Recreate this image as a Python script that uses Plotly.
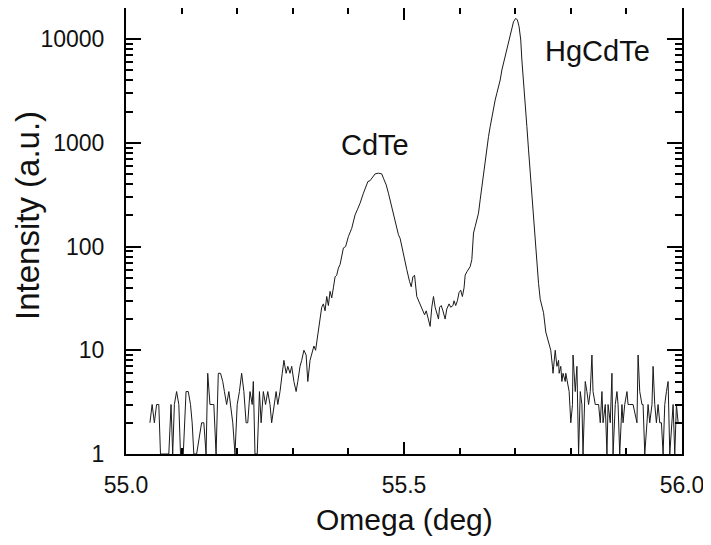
import math
import plotly.graph_objects as go

# Omega (deg) and intensity (a.u.)
omega = [
    55.043, 55.047, 55.051, 55.055, 55.059, 55.062, 55.066, 55.070, 55.077, 55.081,
    55.084, 55.087, 55.091, 55.095, 55.098, 55.103, 55.108, 55.112, 55.116, 55.119,
    55.122, 55.127, 55.136, 55.140, 55.144, 55.147, 55.151, 55.155, 55.158, 55.162,
    55.166, 55.170, 55.174, 55.177, 55.181, 55.185, 55.188, 55.192, 55.196, 55.200,
    55.204, 55.208, 55.212, 55.216, 55.219, 55.223, 55.227, 55.229, 55.232, 55.236,
    55.240, 55.243, 55.247, 55.251, 55.255, 55.259, 55.262, 55.266, 55.270, 55.273,
    55.277, 55.281, 55.284, 55.288, 55.291, 55.295, 55.298, 55.302, 55.306, 55.309,
    55.313, 55.316, 55.320, 55.324, 55.327, 55.331, 55.334, 55.338, 55.341, 55.346,
    55.349, 55.352, 55.355, 55.358, 55.361, 55.364, 55.367, 55.370, 55.373, 55.376,
    55.379, 55.382, 55.385, 55.388, 55.391, 55.395, 55.400, 55.406, 55.412, 55.416,
    55.421, 55.427, 55.431, 55.435, 55.439, 55.444, 55.448, 55.454, 55.460, 55.463,
    55.468, 55.472, 55.476, 55.481, 55.486, 55.490, 55.493, 55.496, 55.500, 55.505,
    55.510, 55.513, 55.516, 55.519, 55.523, 55.526, 55.529, 55.533, 55.537, 55.540,
    55.543, 55.547, 55.550, 55.553, 55.556, 55.559, 55.562, 55.564, 55.567, 55.570,
    55.574, 55.577, 55.581, 55.584, 55.588, 55.590, 55.593, 55.596, 55.599, 55.602,
    55.605, 55.608, 55.610, 55.613, 55.616, 55.619, 55.622, 55.625, 55.628, 55.631,
    55.634, 55.637, 55.640, 55.643, 55.646, 55.649, 55.652, 55.655, 55.658, 55.661,
    55.664, 55.667, 55.670, 55.673, 55.676, 55.679, 55.682, 55.685, 55.688, 55.691,
    55.694, 55.697, 55.701, 55.704, 55.707, 55.710, 55.712, 55.715, 55.718, 55.721,
    55.724, 55.727, 55.730, 55.733, 55.736, 55.739, 55.742, 55.745, 55.751, 55.755,
    55.760, 55.764, 55.767, 55.768, 55.772, 55.775, 55.778, 55.779, 55.782, 55.784,
    55.786, 55.790, 55.791, 55.794, 55.797, 55.800, 55.803, 55.804, 55.808, 55.811,
    55.814, 55.817, 55.820, 55.822, 55.826, 55.829, 55.832, 55.835, 55.838, 55.840,
    55.844, 55.847, 55.850, 55.853, 55.856, 55.858, 55.862, 55.865, 55.867, 55.871,
    55.874, 55.876, 55.880, 55.883, 55.885, 55.888, 55.892, 55.894, 55.897, 55.901,
    55.903, 55.906, 55.912, 55.919, 55.921, 55.924, 55.928, 55.930, 55.933, 55.937,
    55.939, 55.942, 55.946, 55.948, 55.951, 55.954, 55.957, 55.960, 55.963, 55.966,
    55.969, 55.972, 55.975, 55.978, 55.981, 55.984, 55.987, 55.990, 55.993,
]
intensity = [
    2, 3, 2, 3, 3, 1, 1, 1, 1, 3,
    1, 3, 4, 3, 1, 1, 4, 4, 3, 2,
    1, 1, 2, 2, 1, 6, 3, 3, 3, 1,
    6, 6, 5, 4, 3, 4, 3, 2, 1, 3,
    4, 6, 4, 2, 2, 4, 3, 5, 1, 1,
    4, 2, 4, 3, 4, 3, 2, 3, 4, 3,
    4, 6, 8, 6, 7, 6, 7, 5, 4, 5,
    7, 8, 10, 9, 5, 8, 9, 11, 10, 16,
    21, 26, 28, 24, 33, 27, 37, 32, 40, 51,
    53, 62, 67, 80, 97, 100, 125, 150, 202, 226,
    262, 327, 379, 423, 432, 467, 502, 510, 502, 456,
    393, 327, 262, 210, 162, 130, 120, 100, 77, 60,
    46, 41, 51, 53, 33, 30, 28, 25, 22, 24,
    21, 17, 26, 33, 26, 23, 20, 26, 27, 24,
    20, 25, 28, 26, 27, 30, 27, 30, 36, 38,
    33, 40, 53, 57, 60, 64, 75, 135, 156, 181,
    210, 282, 379, 510, 684, 919, 1148, 1432, 1787, 2153,
    2590, 3006, 3479, 4036, 5035, 5848, 6761, 8147, 9795, 11376,
    13183, 14723, 15849, 15276, 13183, 9795, 6295, 4036, 2409, 1432,
    855, 510, 303, 181, 108, 69, 44, 31, 23, 15,
    12, 10, 7, 6, 10, 7, 8, 6, 7, 5,
    6, 5, 6, 5, 4, 2, 3, 9, 4, 7,
    1, 4, 3, 1, 5, 4, 3, 4, 9, 4,
    3, 3, 3, 2, 4, 2, 3, 1, 3, 2,
    6, 1, 3, 4, 3, 1, 3, 2, 3, 4,
    3, 3, 3, 2, 9, 4, 3, 3, 1, 2,
    3, 2, 3, 7, 3, 2, 3, 2, 2, 1,
    3, 4, 5, 1, 2, 3, 1, 3, 2,
]

peak_labels = ["CdTe", "HgCdTe"]
peak_label_x = [55.447, 55.848]
peak_label_y = [950, 7700]

x_tickvals = [55.0, 55.5, 56.0]
x_ticktext = ["55.0", "55.5", "56.0"]
x_minor = [55.1, 55.2, 55.3, 55.4, 55.6, 55.7, 55.8, 55.9]
y_tickvals = [1, 10, 100, 1000, 10000]
y_ticktext = ["1", "10", "100", "1000", "10000"]
y_minor = [m * 10 ** d for d in range(0, 5) for m in range(2, 10)]

FONT = "Liberation Sans, Arial, sans-serif"

fig = go.Figure()
fig.add_trace(go.Scatter(
    x=omega, y=intensity, mode="lines",
    line=dict(color="#1a1a1a", width=1),
    showlegend=False, hoverinfo="x+y",
))

for t, xv, yv in zip(peak_labels, peak_label_x, peak_label_y):
    fig.add_annotation(x=xv, y=math.log10(yv), text=t, showarrow=False,
                       font=dict(family=FONT, size=29, color="#111"),
                       xanchor="center", yanchor="middle")

fig.add_annotation(x=0.5, y=-0.147, xref="paper", yref="paper", text="Omega (deg)",
                   showarrow=False, font=dict(family=FONT, size=30, color="#111"),
                   xanchor="center", yanchor="middle")
fig.add_annotation(x=-0.176, y=0.534, xref="paper", yref="paper", text="Intensity (a.u.)",
                   showarrow=False, textangle=-90,
                   font=dict(family=FONT, size=33, color="#111"),
                   xanchor="center", yanchor="middle")

# page has an 8px body margin, so the figure is sized to fit the window
fig.update_layout(
    width=703, height=537,
    margin=dict(l=118, r=29, t=0, b=91, autoexpand=False),
    paper_bgcolor="white", plot_bgcolor="white",
    font=dict(family=FONT, size=23, color="#111"),
    xaxis=dict(
        range=[55.0, 56.0], tickvals=x_tickvals, ticktext=x_ticktext,
        ticks="inside", ticklen=12, tickwidth=1.5, tickcolor="black",
        showline=True, linecolor="black", linewidth=2, mirror="ticks",
        showgrid=False, zeroline=False, automargin=False, ticklabelstandoff=9,
        minor=dict(tickvals=x_minor, ticks="inside", ticklen=6, tickwidth=1.5,
                   tickcolor="black", showgrid=False),
        tickfont=dict(family=FONT, size=23, color="#111"),
    ),
    yaxis=dict(
        type="log", range=[0, 4.3], tickvals=y_tickvals, ticktext=y_ticktext,
        ticks="inside", ticklen=15, tickwidth=1.5, tickcolor="black",
        showline=True, linecolor="black", linewidth=2, mirror="ticks",
        showgrid=False, zeroline=False, automargin=False, ticklabelstandoff=15,
        minor=dict(tickvals=y_minor, ticks="inside", ticklen=7, tickwidth=1.5,
                   tickcolor="black", showgrid=False),
        tickfont=dict(family=FONT, size=23, color="#111"),
    ),
)

fig.write_html("out.html")
